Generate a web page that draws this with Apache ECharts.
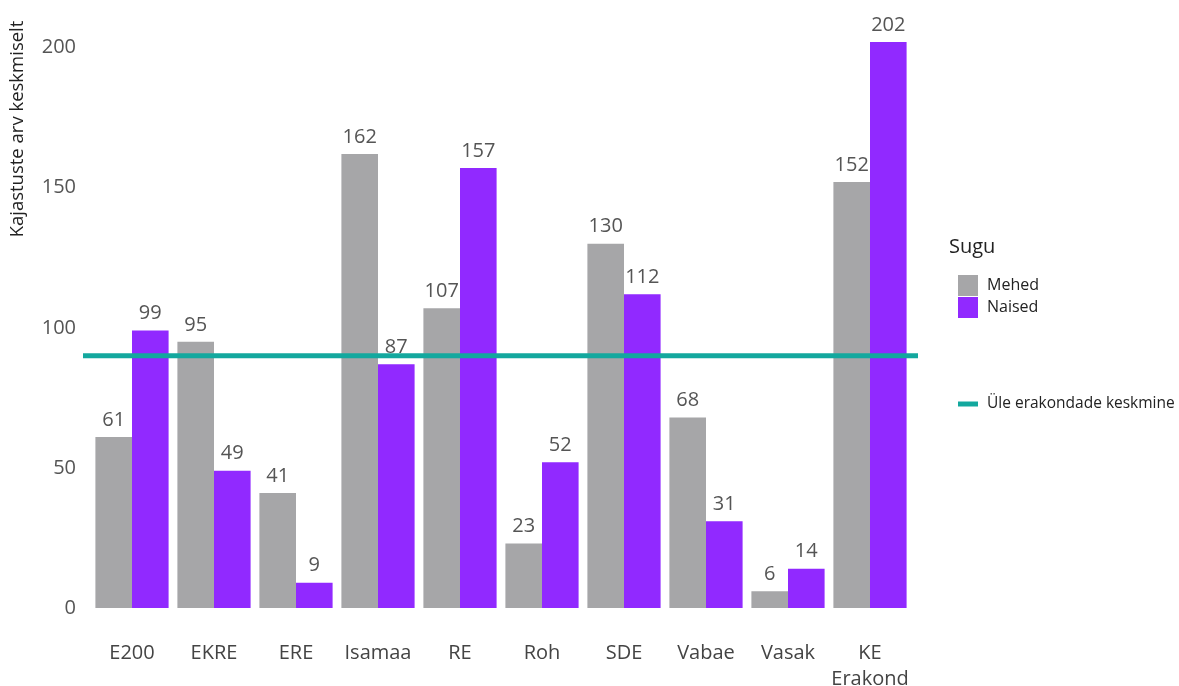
<!DOCTYPE html>
<html>
<head>
<meta charset="utf-8">
<script src="https://cdn.jsdelivr.net/npm/echarts@6/dist/echarts.min.js"></script>
<style>
  html, body { margin: 0; padding: 0; background: #fff; }
  #chart { width: 1179px; height: 686px; }
</style>
</head>
<body>
<div id="chart"></div>
<script>
// andmed
const categories = ['E200', 'EKRE', 'ERE', 'Isamaa', 'RE', 'Roh', 'SDE', 'Vabae', 'Vasak', 'KE\nErakond'];
const mehed = [61, 95, 41, 162, 107, 23, 130, 68, 6, 152];
const naised = [99, 49, 9, 87, 157, 52, 112, 31, 14, 202];
const keskmine = 90;
const yTicks = [0, 50, 100, 150, 200];
const yMax = 202;

const font = '"Open Sans", sans-serif';
const chart = echarts.init(document.getElementById('chart'));

const barLabel = {
    show: true,
    position: 'top',
    distance: 7,
    fontSize: 20,
    fontFamily: font,
    color: '#555555'
};

chart.setOption({
    backgroundColor: '#ffffff',
    animation: false,
    title: {
        text: 'Sugu',
        left: 944,
        top: 232,
        textStyle: { fontSize: 20, fontWeight: 'normal', color: '#222', fontFamily: font }
    },
    legend: [
        {
            data: ['Mehed', 'Naised'],
            orient: 'vertical',
            left: 953,
            top: 270,
            itemWidth: 20,
            itemHeight: 21,
            itemGap: 1,
            icon: 'rect',
            textStyle: { fontSize: 16, color: '#222', fontFamily: font, padding: [0, 0, 0, 4] }
        },
        {
            data: ['Üle erakondade keskmine'],
            left: 953,
            top: 391,
            itemWidth: 20,
            itemHeight: 5,
            icon: 'rect',
            textStyle: { fontSize: 15.5, color: '#222', fontFamily: font, padding: [0, 0, 0, 4] }
        }
    ],
    grid: [
        { left: 91, right: 268, top: 42, bottom: 78, outerBoundsMode: 'none' },
        { left: 83, right: 261, top: 42, bottom: 78, outerBoundsMode: 'none' }
    ],
    xAxis: [
        {
            type: 'category',
            data: categories,
            gridIndex: 0,
            axisLine: { show: false },
            axisTick: { show: false },
            axisLabel: {
                interval: 0,
                fontSize: 20,
                fontFamily: font,
                color: '#444',
                margin: 32,
                lineHeight: 26
            }
        },
        { type: 'value', gridIndex: 1, min: 0, max: 1, show: false }
    ],
    yAxis: [
        {
            type: 'value',
            gridIndex: 0,
            min: yTicks[0],
            max: yMax,
            interval: 50,
            splitLine: { show: false },
            axisLine: { show: false },
            axisTick: { show: false },
            axisLabel: {
                fontSize: 20, fontFamily: font, color: '#555', margin: 15,
                showMaxLabel: false,
                formatter: v => (yTicks.indexOf(v) >= 0 ? String(v) : '')
            },
            name: 'Kajastuste arv keskmiselt',
            nameLocation: 'middle',
            nameGap: 64,
            nameTextStyle: { fontSize: 18.5, fontFamily: font, color: '#222', padding: [0, 0, 0, 392] }
        },
        { type: 'value', gridIndex: 1, min: 0, max: yMax, show: false }
    ],
    series: [
        {
            name: 'Mehed',
            type: 'bar',
            data: mehed,
            barWidth: 36.6,
            barGap: '0%',
            itemStyle: { color: '#a6a6a8' },
            label: barLabel
        },
        {
            name: 'Naised',
            type: 'bar',
            data: naised,
            barWidth: 36.6,
            barGap: '0%',
            itemStyle: { color: '#9129ff' },
            label: barLabel
        },
        {
            name: 'Üle erakondade keskmine',
            type: 'line',
            xAxisIndex: 1,
            yAxisIndex: 1,
            data: [[0, keskmine], [1, keskmine]],
            symbol: 'none',
            z: 5,
            lineStyle: { color: '#13a89e', width: 5 },
            itemStyle: { color: '#13a89e' }
        }
    ]
});
</script>
</body>
</html>
